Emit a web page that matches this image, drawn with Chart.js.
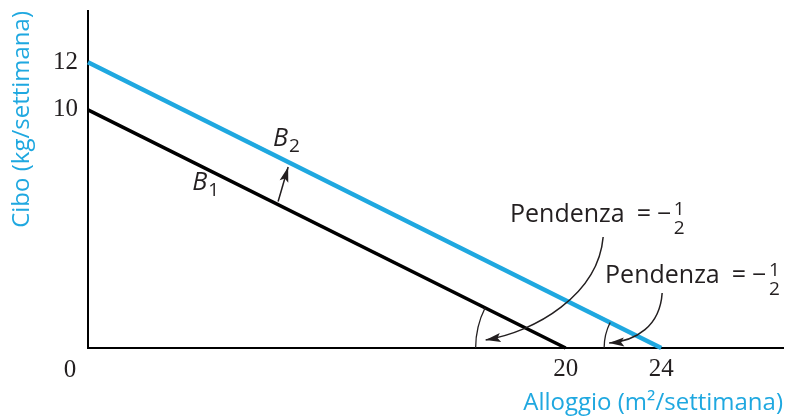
<!DOCTYPE html>
<html>
<head>
<meta charset="utf-8">
<script src="https://cdn.jsdelivr.net/npm/chart.js@4/dist/chart.umd.min.js"></script>
<style>
html, body { margin: 0; padding: 0; background: #fff; }
</style>
</head>
<body>
<canvas id="budgetChart" width="788" height="420"></canvas>
<script>
// budget lines (Alloggio on x, Cibo on y)
const lineB1 = [{x: 0, y: 10}, {x: 20, y: 0}];
const lineB2 = [{x: 0, y: 12}, {x: 24, y: 0}];
const xTicks = [20, 24];
const yTicks = [10, 12];
const lineNames = ['B', 'B'];
const lineSubs = ['1', '2'];
const slopeText = 'Pendenza';
const slopeNum = '1';
const slopeDen = '2';

const blue = '#1fa8e0';
const ink = '#231f20';
const sans = '"Open Sans", "Noto Sans", sans-serif';
const serif = '"Liberation Serif", serif';

// where the annotations sit, in data units
const b1Label = [4.36, 6.65];
const b2Label = [7.75, 8.5];
const shiftArrow = [[7.96, 6.15], [8.38, 7.6]];
const slope1 = [17.67, 5.29];
const slope2 = [21.65, 2.73];
const arrow1 = [[21.57, 4.66], [21.36, 2.23], [18.72, 0.67], [16.65, 0.34]];
const arrow2 = [[24.04, 2.31], [23.95, 0.92], [22.95, 0.29], [21.82, 0.21]];
const arc1 = {cx: 20, through: 16.23};
const arc2 = {cx: 24, through: 21.61};

function arrowHead(ctx, tip, from) {
    const ang = Math.atan2(tip[1] - from[1], tip[0] - from[0]);
    const len = 15, half = 4.5;
    ctx.save();
    ctx.translate(tip[0], tip[1]);
    ctx.rotate(ang);
    ctx.beginPath();
    ctx.moveTo(0, 0);
    ctx.lineTo(-len, -half);
    ctx.lineTo(-len + 3, 0);
    ctx.lineTo(-len, half);
    ctx.closePath();
    ctx.fill();
    ctx.restore();
}

function drawSlope(ctx, x0, base) {
    ctx.font = '25px ' + sans;
    ctx.textAlign = 'left';
    ctx.textBaseline = 'alphabetic';
    ctx.fillText(slopeText, x0, base);
    let cx = x0 + ctx.measureText(slopeText).width + 12;
    ctx.fillText('=', cx, base);
    cx += ctx.measureText('=').width + 6;
    ctx.fillText('\u2212', cx, base);
    cx += ctx.measureText('\u2212').width + 8;
    ctx.font = '19px ' + sans;
    ctx.textAlign = 'center';
    ctx.fillText(slopeNum, cx, base - 7);
    ctx.fillText(slopeDen, cx, base + 12);
}

const notes = {
    id: 'notes',
    afterDatasetsDraw(chart) {
        const {ctx, scales: {x, y}} = chart;
        const P = p => [x.getPixelForValue(p[0]), y.getPixelForValue(p[1])];
        ctx.save();
        ctx.fillStyle = ink;
        ctx.strokeStyle = ink;

        // origin label
        ctx.font = '25px ' + serif;
        ctx.textAlign = 'center';
        ctx.textBaseline = 'middle';
        ctx.fillText('0', x.getPixelForValue(0) - 18, y.getPixelForValue(0) + 22);

        // B1, B2
        [b1Label, b2Label].forEach((pos, i) => {
            const [lx, ly] = P(pos);
            ctx.font = 'italic 25px ' + sans;
            ctx.textAlign = 'left';
            ctx.textBaseline = 'alphabetic';
            ctx.fillText(lineNames[i], lx, ly);
            const w = ctx.measureText(lineNames[i]).width;
            ctx.font = '19px ' + sans;
            ctx.fillText(lineSubs[i], lx + w + 1, ly + 6);
        });

        // small shift arrow
        ctx.lineWidth = 1.5;
        const t = P(shiftArrow[0]), h = P(shiftArrow[1]);
        ctx.beginPath();
        ctx.moveTo(t[0], t[1]);
        ctx.lineTo(h[0], h[1]);
        ctx.stroke();
        arrowHead(ctx, h, t);

        // slope labels
        let p = P(slope1);
        drawSlope(ctx, p[0], p[1]);
        p = P(slope2);
        drawSlope(ctx, p[0], p[1]);

        // curved arrows
        [arrow1, arrow2].forEach(pts => {
            const q = pts.map(P);
            ctx.lineWidth = 1.5;
            ctx.beginPath();
            ctx.moveTo(q[0][0], q[0][1]);
            ctx.bezierCurveTo(q[1][0], q[1][1], q[2][0], q[2][1], q[3][0], q[3][1]);
            ctx.stroke();
            arrowHead(ctx, q[3], q[2]);
        });

        // angle arcs at the x intercepts
        [arc1, arc2].forEach(a => {
            const cx = x.getPixelForValue(a.cx);
            const cy = y.getPixelForValue(0);
            const r = cx - x.getPixelForValue(a.through);
            ctx.lineWidth = 1.3;
            ctx.beginPath();
            ctx.arc(cx, cy, r, Math.PI + Math.atan(0.5), Math.PI, true);
            ctx.stroke();
        });
        ctx.restore();
    }
};

const ctx = document.getElementById('budgetChart').getContext('2d');
const budgetChart = new Chart(ctx, {
    type: 'line',
    data: {
        datasets: [{
            label: 'B1',
            data: lineB1,
            borderColor: '#000',
            borderWidth: 3.5,
            pointRadius: 0,
            clip: false
        }, {
            label: 'B2',
            data: lineB2,
            borderColor: blue,
            borderWidth: 4.5,
            pointRadius: 0,
            clip: false
        }]
    },
    options: {
        responsive: false,
        animation: false,
        events: [],
        layout: {padding: {left: 0, top: 11, right: 5, bottom: 0}},
        plugins: {legend: {display: false}, tooltip: {enabled: false}},
        scales: {
            x: {
                type: 'linear',
                min: 0,
                max: 29.1,
                afterBuildTicks: s => { s.ticks = xTicks.map(v => ({value: v})); },
                afterFit: s => { s.height = 72; s.paddingLeft = 0; s.paddingRight = 0; },
                grid: {display: false, drawTicks: false},
                border: {color: '#000', width: 2},
                ticks: {
                    color: ink,
                    padding: 6,
                    maxRotation: 0,
                    font: {family: '"Liberation Serif", serif', size: 25}
                },
                title: {
                    display: true,
                    text: 'Alloggio (m\u00b2/settimana)',
                    align: 'end',
                    color: blue,
                    padding: {top: 0, bottom: 2},
                    font: {family: '"Open Sans", sans-serif', size: 24}
                }
            },
            y: {
                type: 'linear',
                min: 0,
                max: 14.15,
                afterBuildTicks: s => { s.ticks = yTicks.map(v => ({value: v})); },
                afterFit: s => { s.width = 88; s.paddingTop = 0; s.paddingBottom = 0; },
                grid: {display: false, drawTicks: false},
                border: {color: '#000', width: 2},
                ticks: {
                    color: ink,
                    padding: 10,
                    font: {family: '"Liberation Serif", serif', size: 25}
                },
                title: {
                    display: true,
                    text: 'Cibo (kg/settimana)',
                    align: 'end',
                    color: blue,
                    padding: {top: 8, bottom: 0},
                    font: {family: '"Open Sans", sans-serif', size: 24}
                }
            }
        }
    },
    plugins: [notes]
});
</script>
</body>
</html>
